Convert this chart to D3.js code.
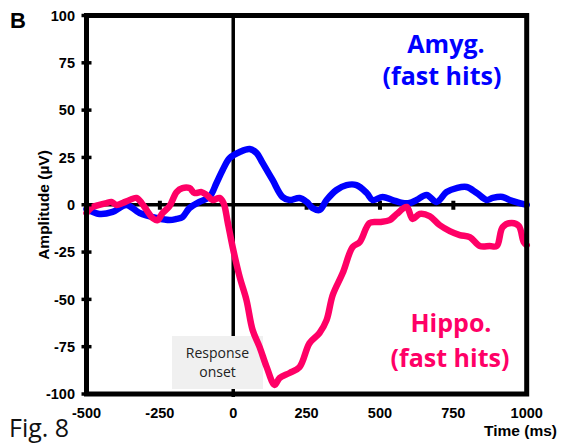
<!DOCTYPE html>
<html><head><meta charset="utf-8">
<script src="https://cdn.jsdelivr.net/npm/d3@7"></script>
<style>body{margin:0;background:#fff}svg{display:block}</style>
</head><body>
<svg id="c" width="561" height="443"></svg>
<script>
// ---- data ----
const amygTime = [-500,-456,-411,-364,-319,-261,-217,-193,-173,-149,-115,-81,-57,-36,-12,22,56,80,100,134,168,192,226,250,270,294,318,352,386,420,455,475,509,543,577,601,625,659,693,727,761,795,830,864,884,918,942,976,1000];
const amygVals = [-2.2,-4.9,-3.8,-0.1,-4.4,-7.0,-8.1,-7.5,-6.5,-1.7,1.5,4.1,11.5,18.4,24.7,27.9,29.5,27.3,22.1,13.1,4.1,2.5,3.6,1.5,-1.7,-2.8,2.5,7.8,10.4,10.4,6.2,2.5,4.1,2.5,0.9,0.9,2.5,5.2,1.5,6.7,8.8,9.4,6.2,2.5,3.6,4.1,2.5,0.9,-0.1];
const hippoTime = [-500,-480,-456,-432,-415,-398,-377,-353,-330,-312,-295,-275,-258,-241,-217,-193,-173,-149,-132,-108,-91,-70,-47,-33,-19,-2,22,45,66,90,114,141,158,192,226,260,294,318,339,373,407,431,465,499,533,557,591,611,635,669,703,738,772,806,840,874,898,918,949,973,990,1000];
const hippoVals = [-4.4,-1.2,-0.1,0.9,1.5,-0.1,0.9,2.5,3.6,0.9,-2.8,-7.0,-8.1,-4.4,-0.7,6.7,8.8,8.8,6.2,6.7,5.2,2.5,3.6,0.9,-9.1,-22.3,-38.2,-50.3,-66.2,-75.2,-85.8,-95.2,-91.5,-88.9,-85.8,-73.1,-67.8,-61.0,-47.7,-36.1,-22.3,-19.7,-9.6,-9.1,-8.1,-4.9,-1.2,-7.5,-4.9,-6.0,-10.7,-13.9,-16.0,-17.1,-21.8,-21.8,-21.8,-11.8,-9.6,-11.2,-19.7,-21.3];
const xTicks = [-500,-250,0,250,500,750,1000];
const yTicks = [-100,-75,-50,-25,0,25,50,75,100];
const zeroTicks = [-250,250,500,750];

const svg = d3.select('#c');
const L = 86.5, R = 526.7, T = 15.5, B = 394;
const x = d3.scaleLinear().domain([-500,1000]).range([L,R]);
const y = d3.scaleLinear().domain([-100,100]).range([B,T]);
const arial = 'Liberation Sans, Arial, sans-serif';
const calibri = 'Open Sans, Noto Sans, sans-serif';

// zero lines
svg.append('line').attr('x1',L).attr('x2',R).attr('y1',y(0)).attr('y2',y(0))
  .attr('stroke','#000').attr('stroke-width',3.5);
svg.append('line').attr('x1',x(0)).attr('x2',x(0)).attr('y1',T).attr('y2',B+3)
  .attr('stroke','#000').attr('stroke-width',3.5);
svg.selectAll('.zt').data(zeroTicks).join('line')
  .attr('x1',d=>x(d)).attr('x2',d=>x(d)).attr('y1',y(0)-4).attr('y2',y(0)+5)
  .attr('stroke','#000').attr('stroke-width',4);

// response onset box
svg.append('rect').attr('x',172).attr('y',336).attr('width',91).attr('height',53).attr('fill','#f0f0f0');
svg.append('text').attr('x',217.5).attr('y',358).attr('text-anchor','middle')
  .attr('font-family',calibri).attr('font-size',14).attr('fill','#222').text('Response');
svg.append('text').attr('x',217.5).attr('y',377).attr('text-anchor','middle')
  .attr('font-family',calibri).attr('font-size',14).attr('fill','#222').text('onset');

// lines
const line = d3.line().x(d=>x(d[0])).y(d=>y(d[1])).curve(d3.curveCatmullRom.alpha(0.5));
svg.append('path').datum(amygTime.map((t,i)=>[t,amygVals[i]])).attr('d',line)
  .attr('fill','none').attr('stroke','#0000ff').attr('stroke-width',6.5)
  .attr('stroke-linejoin','round').attr('stroke-linecap','round');
svg.append('path').datum(hippoTime.map((t,i)=>[t,hippoVals[i]])).attr('d',line)
  .attr('fill','none').attr('stroke','#ff0066').attr('stroke-width',6.5)
  .attr('stroke-linejoin','round').attr('stroke-linecap','round');

// frame
svg.append('rect').attr('x',L).attr('y',T).attr('width',R-L).attr('height',B-T)
  .attr('fill','none').attr('stroke','#000').attr('stroke-width',5);

// y ticks and labels
svg.selectAll('.yt').data(yTicks).join('line')
  .attr('x1',L-5).attr('x2',L+5).attr('y1',d=>y(d)).attr('y2',d=>y(d))
  .attr('stroke','#000').attr('stroke-width',3.5);
svg.selectAll('.yl').data(yTicks).join('text')
  .attr('x',75).attr('y',d=>y(d)).attr('dy','0.36em').attr('text-anchor','end')
  .attr('font-family',arial).attr('font-weight','bold').attr('font-size',14.5).text(d=>d);
svg.selectAll('.xl').data(xTicks).join('text')
  .attr('x',d=>x(d)).attr('y',418).attr('text-anchor','middle')
  .attr('font-family',arial).attr('font-weight','bold').attr('font-size',14.5).text(d=>d);

// titles
svg.append('text').attr('x',557).attr('y',436).attr('text-anchor','end')
  .attr('font-family',arial).attr('font-weight','bold').attr('font-size',15.5).text('Time (ms)');
svg.append('text').attr('transform','translate(49,205) rotate(-90)').attr('text-anchor','middle')
  .attr('font-family',arial).attr('font-weight','bold').attr('font-size',15.5).text('Amplitude (µV)');
svg.append('text').attr('x',10).attr('y',28)
  .attr('font-family',arial).attr('font-weight','bold').attr('font-size',22).text('B');
svg.append('text').attr('x',9).attr('y',437)
  .attr('font-family',calibri).attr('font-size',25).attr('fill','#111').text('Fig. 8');

// series labels
const lab = (txt,cx,by,col)=>svg.append('text').attr('x',cx).attr('y',by).attr('text-anchor','middle')
  .attr('font-family',calibri).attr('font-weight','bold').attr('font-size',25).attr('fill',col).text(txt);
lab('Amyg.',446,53,'#0000ff');
lab('(fast hits)',442,85,'#0000ff');
lab('Hippo.',451,332,'#ff0066');
lab('(fast hits)',450,367,'#ff0066');
</script>
</body></html>
